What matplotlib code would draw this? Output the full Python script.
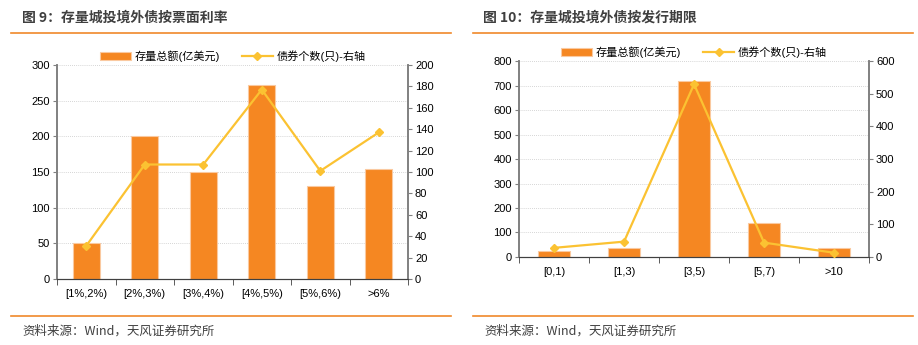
import numpy as np
import matplotlib.pyplot as plt
from matplotlib.lines import Line2D

plt.rcParams['font.family'] = ['Liberation Sans', 'Noto Sans CJK SC']

# data
cats_rate = ['[1%,2%)', '[2%,3%)', '[3%,4%)', '[4%,5%)', '[5%,6%)', '>6%']
amt_rate = [50, 200, 150, 272, 130, 154]
cnt_rate = [31, 107, 107, 177, 101, 137]

cats_term = ['[0,1)', '[1,3)', '[3,5)', '[5,7)', '>10']
amt_term = [25, 38, 717, 138, 37]
cnt_term = [28, 47, 529, 44, 13]

bar_c = '#F58722'
line_c = '#FBC232'
rule_c = '#F0892A'
title_c = '#3F3F3F'

fig = plt.figure(figsize=(9.18, 3.45), dpi=100)


def panel(rect, cats, amt, cnt, ymax1, step1, ymax2, step2, leg_y):
    ax = fig.add_axes(rect)
    x = np.arange(len(cats))
    ax.bar(x, amt, width=0.46, color=bar_c, edgecolor='#FAC9A0', linewidth=0.8,
           label='存量总额(亿美元)', zorder=2)
    ax.set_xlim(-0.5, len(cats) - 0.5)
    ax.set_ylim(0, ymax1)
    ax.set_yticks(np.arange(0, ymax1 + 1, step1))
    ax.grid(axis='y', color='#C8C8C8', linestyle=(0, (1, 1.5)), linewidth=0.6, zorder=0)
    ax.set_xticks(x)
    ax.set_xticklabels(cats)
    ax.set_xticks(np.arange(-0.5, len(cats)), minor=True)
    ax.tick_params(axis='x', which='major', length=0, labelsize=8, pad=7)
    ax.tick_params(axis='x', which='minor', length=4, color='#404040', direction='out')
    ax.tick_params(axis='y', labelsize=8, length=3, color='#808080', pad=2)

    ax2 = ax.twinx()
    ax2.plot(x, cnt, color=line_c, linewidth=1.6, marker='D', markersize=4.5,
             label='债券个数(只)-右轴', zorder=3)
    ax2.set_ylim(0, ymax2)
    ax2.set_yticks(np.arange(0, ymax2 + 1, step2))
    ax2.tick_params(axis='y', labelsize=8, length=3, color='#808080', pad=2)

    for a in (ax, ax2):
        a.spines['top'].set_visible(False)
        a.spines['left'].set_color('#808080')
        a.spines['right'].set_color('#808080')
        a.spines['left'].set_linewidth(1.2)
        a.spines['right'].set_linewidth(1.2)
        a.spines['bottom'].set_color('#404040')

    h1, l1 = ax.get_legend_handles_labels()
    h2, l2 = ax2.get_legend_handles_labels()
    ax.legend(h1 + h2, l1 + l2, loc='center', bbox_to_anchor=(0.5, leg_y), ncol=2,
              frameon=False, fontsize=8, handlelength=2.8, handleheight=0.6,
              columnspacing=2.0, handletextpad=0.3, borderaxespad=0, borderpad=0)
    return ax


panel([0.0621, 0.1913, 0.3824, 0.6203], cats_rate, amt_rate, cnt_rate,
      300, 50, 200, 20, 1.042)
panel([0.5654, 0.2551, 0.3813, 0.568], cats_term, amt_term, cnt_term,
      800, 100, 600, 100, 1.046)

# titles, rules and sources
fig.text(22 / 918, 1 - 18 / 345, '图 9：存量城投境外债按票面利率', fontsize=10,
         fontweight='bold', color=title_c, va='center', family=['Noto Sans CJK SC'])
fig.text(483 / 918, 1 - 18 / 345, '图 10：存量城投境外债按发行期限', fontsize=10,
         fontweight='bold', color=title_c, va='center', family=['Noto Sans CJK SC'])
for x0, x1 in ((11, 451), (473, 913)):
    for yy in (33, 316):
        fig.add_artist(Line2D([x0 / 918, x1 / 918], [1 - yy / 345] * 2,
                              color=rule_c, linewidth=1.2))
fig.text(22 / 918, 1 - 331 / 345, '资料来源：Wind，天风证券研究所', fontsize=9,
         color='#404040', va='center', family=['Noto Sans CJK SC'])
fig.text(484 / 918, 1 - 331 / 345, '资料来源：Wind，天风证券研究所', fontsize=9,
         color='#404040', va='center', family=['Noto Sans CJK SC'])

fig.savefig('out.png', dpi=100)
